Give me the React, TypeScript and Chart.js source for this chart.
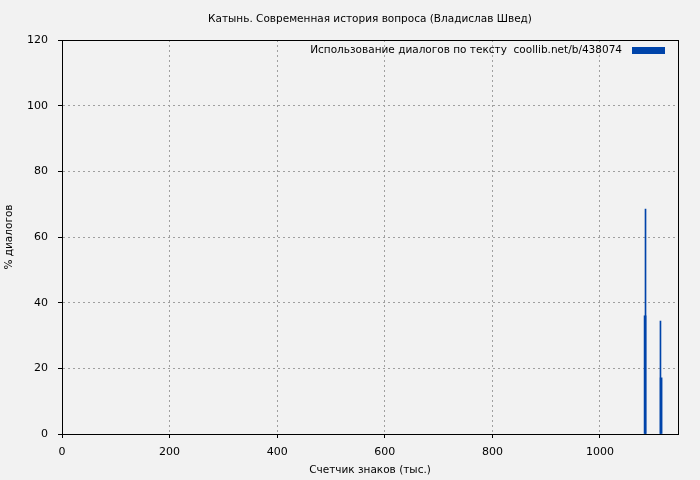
import { useEffect, useRef } from "react";
import { Chart, registerables, Plugin } from "chart.js";

Chart.register(...registerables);

const chartTitle = "Катынь. Современная история вопроса (Владислав Швед)";
const seriesLabel = "Использование диалогов по тексту  coollib.net/b/438074";
const xTitle = "Счетчик знаков (тыс.)";
const yTitle = "% диалогов";

// positions in thousands of characters, values in % of dialogue
const wideX = [1083.8, 1113.6];
const wideY = [36, 17.1];
const thinX = [1084.6, 1112.4];
const thinY = [68.5, 34.4];

const xMax = 1145;
const yMax = 120;

const BLUE = "#0044aa";
const GRID = "#a0a0a0";
const FONT = "'DejaVu Sans', sans-serif";

const framePlugin: Plugin<"bar"> = {
  id: "frame",
  beforeDraw(chart) {
    const ctx = chart.ctx;
    ctx.save();
    ctx.fillStyle = "#f2f2f2";
    ctx.fillRect(0, 0, chart.width, chart.height);
    ctx.fillStyle = "#000";
    ctx.font = `10.5px ${FONT}`;
    ctx.textAlign = "center";
    ctx.textBaseline = "middle";
    const a = chart.chartArea;
    ctx.fillText(chartTitle, (a.left + a.right) / 2, 19);
    ctx.restore();
  },
  afterDraw(chart) {
    const ctx = chart.ctx;
    const a = chart.chartArea;
    ctx.save();
    ctx.strokeStyle = "#000";
    ctx.lineWidth = 1;
    ctx.strokeRect(a.left + 0.5, a.top + 0.5, a.right - a.left, a.bottom - a.top);
    // key
    const label = chart.data.datasets[0].label || "";
    ctx.font = `10.5px ${FONT}`;
    ctx.fillStyle = "#000";
    ctx.textAlign = "right";
    ctx.textBaseline = "middle";
    ctx.fillText(label, a.right - 56, a.top + 10.5);
    ctx.fillStyle = BLUE;
    ctx.fillRect(a.right - 46, a.top + 7, 33, 7);
    ctx.restore();
  },
};

export default function App() {
  const canvasRef = useRef<HTMLCanvasElement>(null);

  useEffect(() => {
    if (!canvasRef.current) return;
    const tickFont = { family: FONT, size: 11 };
    const labelFont = { family: FONT, size: 10.5 };
    const chart = new Chart(canvasRef.current, {
      type: "bar",
      data: {
        datasets: [
          {
            label: seriesLabel,
            data: wideX.map((x, i) => ({ x, y: wideY[i] })),
            backgroundColor: BLUE,
            barThickness: 2,
            grouped: false,
          },
          {
            label: "",
            data: thinX.map((x, i) => ({ x, y: thinY[i] })),
            backgroundColor: BLUE,
            barThickness: 1,
            grouped: false,
          },
        ],
      },
      options: {
        responsive: false,
        animation: false,
        layout: { padding: { top: 40, right: 22, left: 0, bottom: 0 } },
        plugins: {
          legend: { display: false },
          title: { display: false },
          tooltip: { enabled: false },
        },
        scales: {
          x: {
            type: "linear",
            min: 0,
            max: xMax,
            offset: false,
            afterFit: (s: any) => {
              s.height = 46;
            },
            ticks: {
              stepSize: 200,
              includeBounds: false,
              color: "#000",
              font: tickFont,
              padding: 8,
              maxRotation: 0,
              callback: (v: any) => String(v),
            },
            grid: {
              color: GRID,
              tickLength: 4,
              tickColor: "#000",
              tickBorderDash: [],
              offset: false,
            } as any,
            border: { display: true, color: "#000", dash: [2, 3] } as any,
            title: {
              display: true,
              text: xTitle,
              color: "#000",
              font: labelFont,
              padding: { top: 2, bottom: 3 },
            },
          },
          y: {
            min: 0,
            max: yMax,
            afterFit: (s: any) => {
              s.width = 62;
            },
            ticks: {
              stepSize: 20,
              color: "#000",
              font: tickFont,
              padding: 10,
            },
            grid: {
              color: GRID,
              tickLength: 4,
              tickColor: "#000",
              tickBorderDash: [],
            } as any,
            border: { display: true, color: "#000", dash: [2, 3] } as any,
            title: {
              display: true,
              text: yTitle,
              color: "#000",
              font: labelFont,
              padding: { top: 3, bottom: 2 },
            },
          },
        },
      },
      plugins: [framePlugin],
    });
    return () => chart.destroy();
  }, []);

  return (
    <div
      style={{
        position: "absolute",
        left: 0,
        top: 0,
        width: 700,
        height: 480,
        background: "#f2f2f2",
      }}
    >
      <canvas ref={canvasRef} width={700} height={480} />
    </div>
  );
}
